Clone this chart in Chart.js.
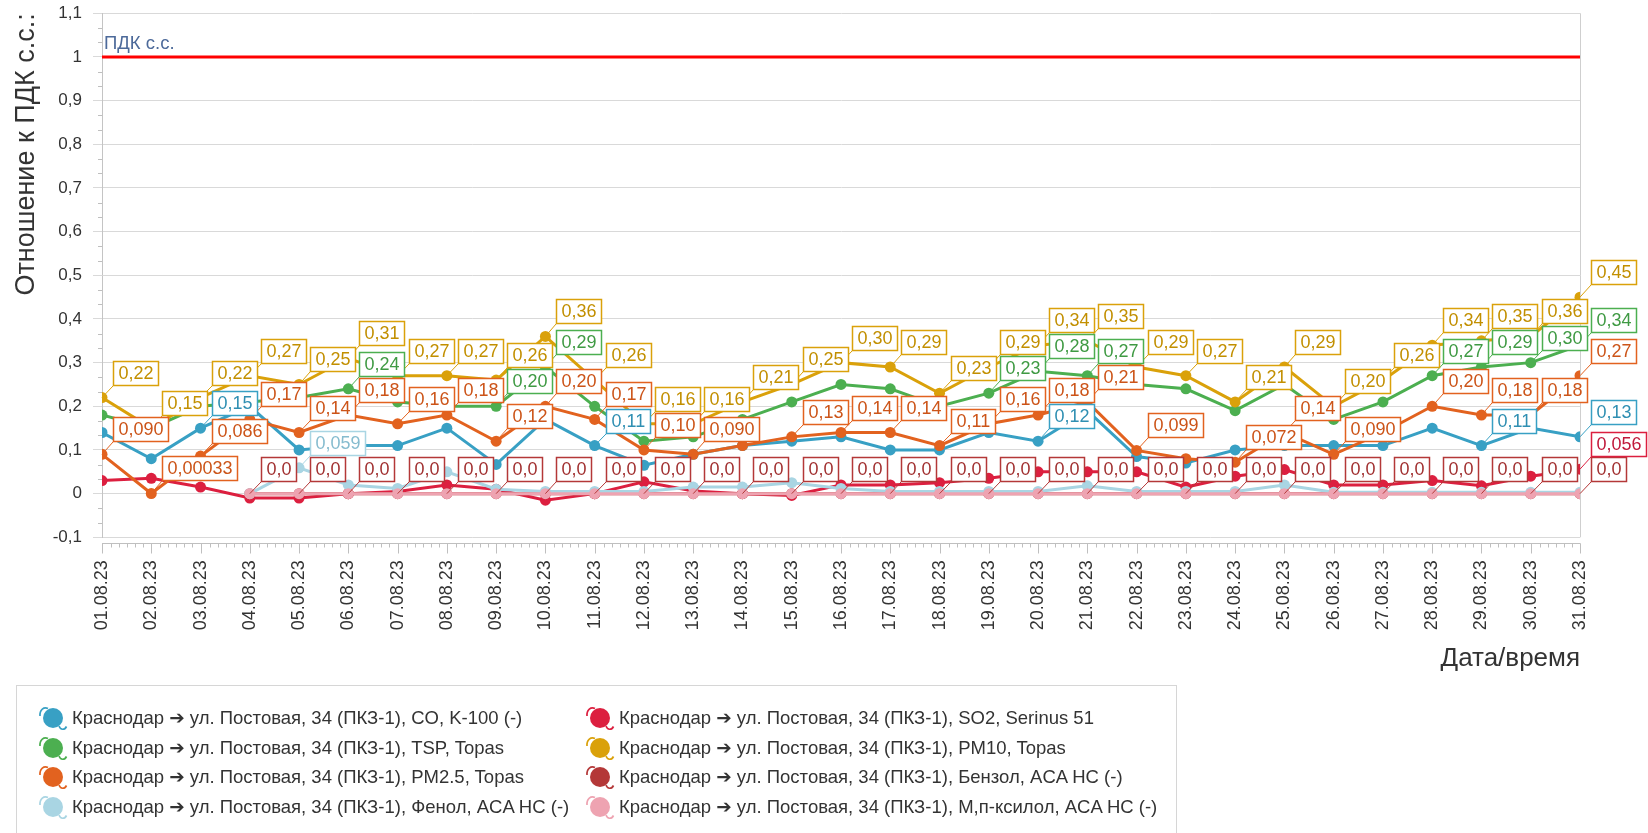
<!DOCTYPE html>
<html lang="ru">
<head>
<meta charset="utf-8">
<title>Отношение к ПДК с.с.</title>
<script src="https://cdn.jsdelivr.net/npm/chart.js@4.4.1/dist/chart.umd.min.js"></script>
<style>
  html, body { margin: 0; padding: 0; background: #fff; }
  #wrap { position: relative; width: 1648px; height: 833px; overflow: hidden; }
  #chart { position: absolute; left: 0; top: 0; }
  #legend { position: absolute; left: 16px; top: 685px; width: 1161px; height: 170px;
            border: 1px solid #d6d6d6; box-sizing: border-box; }
  .item { position: absolute; height: 28px; display: flex; align-items: center; white-space: nowrap;
          font: 18.5px "Liberation Sans", "DejaVu Sans", sans-serif; color: #333; }
  .item svg { margin-right: 3px; flex: none; }
</style>
</head>
<body>
<div id="wrap">
  <canvas id="chart" width="1648" height="833"></canvas>
  <div id="legend"></div>
</div>
<script>
/* ---------- DATA ---------- */
const dates = ["01.08.23","02.08.23","03.08.23","04.08.23","05.08.23","06.08.23","07.08.23","08.08.23",
  "09.08.23","10.08.23","11.08.23","12.08.23","13.08.23","14.08.23","15.08.23","16.08.23","17.08.23",
  "18.08.23","19.08.23","20.08.23","21.08.23","22.08.23","23.08.23","24.08.23","25.08.23","26.08.23",
  "27.08.23","28.08.23","29.08.23","30.08.23","31.08.23"];

const coValues = [0.14,0.08,0.15,0.20,0.10,0.11,0.11,0.15,0.067,0.17,0.11,0.065,0.09,0.11,0.12,0.13,
  0.10,0.10,0.14,0.12,0.19,0.085,0.07,0.10,0.11,0.11,0.11,0.15,0.11,0.15,0.13];
const so2Values = [0.03,0.035,0.015,-0.01,-0.01,0.0,0.005,0.02,0.01,-0.015,0.0,0.027,0.006,0.0,-0.004,
  0.02,0.02,0.025,0.035,0.05,0.05,0.05,0.015,0.04,0.055,0.02,0.02,0.03,0.018,0.04,0.056];
const tspValues = [0.18,0.15,0.20,0.21,0.22,0.24,0.21,0.20,0.20,0.29,0.20,0.12,0.13,0.17,0.21,0.25,
  0.24,0.20,0.23,0.28,0.27,0.25,0.24,0.19,0.25,0.17,0.21,0.27,0.29,0.30,0.34];
const pm10Values = [0.22,0.15,0.22,0.27,0.25,0.31,0.27,0.27,0.26,0.36,0.26,0.16,0.16,0.21,0.25,0.30,
  0.29,0.23,0.29,0.34,0.35,0.29,0.27,0.21,0.29,0.20,0.26,0.34,0.35,0.36,0.45];
const pm25Values = [0.090,0.00033,0.086,0.17,0.14,0.18,0.16,0.18,0.12,0.20,0.17,0.10,0.090,0.11,0.13,
  0.14,0.14,0.11,0.16,0.18,0.21,0.099,0.08,0.072,0.14,0.09,0.14,0.20,0.18,0.18,0.27];
const benzeneValues = [null,null,null,0,0,0,0,0,0,0,0,0,0,0,0,0,0,0,0,0,0,0,0,0,0,0,0,0,0,0,0];
const phenolValues = [null,null,null,0.0,0.059,0.02,0.012,0.05,0.01,0.005,0.005,0.005,0.015,0.015,0.025,
  0.012,0.005,0.005,0.005,0.005,0.018,0.005,0.005,0.005,0.02,0.003,0.003,0.003,0.003,0.003,0.003];
const xyleneValues = [null,null,null,0,0,0,0,0,0,0,0,0,0,0,0,0,0,0,0,0,0,0,0,0,0,0,0,0,0,0,0];

const seriesNames = [
  "Краснодар ➔ ул. Постовая, 34 (ПКЗ-1), CO, K-100 (-)",
  "Краснодар ➔ ул. Постовая, 34 (ПКЗ-1), SO2, Serinus 51",
  "Краснодар ➔ ул. Постовая, 34 (ПКЗ-1), TSP, Topas",
  "Краснодар ➔ ул. Постовая, 34 (ПКЗ-1), PM10, Topas",
  "Краснодар ➔ ул. Постовая, 34 (ПКЗ-1), PM2.5, Topas",
  "Краснодар ➔ ул. Постовая, 34 (ПКЗ-1), Бензол, ACA HC (-)",
  "Краснодар ➔ ул. Постовая, 34 (ПКЗ-1), Фенол, ACA HC (-)",
  "Краснодар ➔ ул. Постовая, 34 (ПКЗ-1), М,п-ксилол, ACA HC (-)"
];
const seriesValues = [coValues, so2Values, tspValues, pm10Values, pm25Values,
  benzeneValues, phenolValues, xyleneValues];
const seriesColors = ["#38a0c4","#dc1f3f","#4caf50","#daa10a","#e2621f","#b43838","#a9d5e3","#eea3b1"];
const labelColors  = ["#2f8fb2","#c0183a","#3f9a43","#c28f00","#cc5418","#a23232","#86bccf","#d88a98"];

// which series wins when point labels collide
const labelPriority = [3, 4, 5, 6, 0, 2, 1, 7];

const yMin = -0.1, yMax = 1.1, yStep = 0.1;
const pdkLevel = 1;
const pdkText = "ПДК с.с.";
const yTitle = "Отношение к ПДК с.с.:";
const xTitle = "Дата/время";

const FONT = '"Liberation Sans", "DejaVu Sans", sans-serif';
Chart.defaults.font.family = FONT;

const fmt = v => v.toPrecision(2).replace(".", ",");

/* ---------- PLUGINS ---------- */
const decor = {
    id: "decor",
    beforeDatasetsDraw(chart) {
        const {ctx, chartArea: a, scales: {y}} = chart;
        ctx.save();
        // right frame
        ctx.strokeStyle = "#cfcfcf";
        ctx.lineWidth = 1;
        ctx.beginPath();
        ctx.moveTo(Math.round(a.right) + 0.5, a.top);
        ctx.lineTo(Math.round(a.right) + 0.5, a.bottom);
        ctx.stroke();
        // ПДК line
        const py = y.getPixelForValue(pdkLevel);
        ctx.strokeStyle = "#ff0000";
        ctx.lineWidth = 3;
        ctx.beginPath();
        ctx.moveTo(a.left, py);
        ctx.lineTo(a.right, py);
        ctx.stroke();
        ctx.fillStyle = "#4d6a9a";
        ctx.font = "18.5px " + FONT;
        ctx.textBaseline = "alphabetic";
        ctx.fillText(pdkText, a.left + 2, py - 8);
        ctx.restore();
    },
    afterDraw(chart) {
        const {ctx, chartArea: a, scales: {x, y}} = chart;
        ctx.save();
        ctx.strokeStyle = "#bfbfbf";
        ctx.lineWidth = 1;
        const ay = Math.round(a.bottom + 6) + 0.5;
        ctx.beginPath();
        ctx.moveTo(a.left, ay);
        ctx.lineTo(a.right + 0.5, ay);
        // x ticks, major + 5 minor between dates
        const n = dates.length;
        for (let i = 0; i < n; i++) {
            const px = Math.round(x.getPixelForValue(i)) + 0.5;
            ctx.moveTo(px, ay);
            ctx.lineTo(px, ay + 10);
            if (i < n - 1) {
                const nx = x.getPixelForValue(i + 1);
                for (let k = 1; k < 6; k++) {
                    const mx = Math.round(px + (nx - px) * k / 6) + 0.5;
                    ctx.moveTo(mx, ay);
                    ctx.lineTo(mx, ay + 4);
                }
            }
        }
        // y minor ticks
        for (let v = yMin; v < yMax - 1e-9; v += yStep) {
            for (let k = 1; k < 3; k++) {
                const py = Math.round(y.getPixelForValue(v + yStep * k / 3)) + 0.5;
                ctx.moveTo(a.left - 4, py);
                ctx.lineTo(a.left, py);
            }
        }
        ctx.stroke();
        ctx.restore();
    }
};

const pointLabels = {
    id: "pointLabels",
    afterDatasetsDraw(chart) {
        const ctx = chart.ctx;
        ctx.save();
        ctx.font = "18px " + FONT;
        const placed = [];
        labelPriority.forEach(di => {
            const meta = chart.getDatasetMeta(di);
            const vals = chart.data.datasets[di].data;
            meta.data.forEach((pt, i) => {
                const v = vals[i];
                if (v === null || v === undefined) return;
                const text = fmt(v);
                const w = Math.round(ctx.measureText(text).width) + 11;
                const h = 25;
                const bx = Math.round(pt.x + 11), by = Math.round(pt.y - 12 - h);
                const box = {x1: bx, y1: by, x2: bx + w, y2: by + h};
                const hit = placed.some(b => box.x1 < b.x2 && box.x2 > b.x1 && box.y1 < b.y2 && box.y2 > b.y1);
                if (hit) return;
                placed.push(Object.assign(box, {di, px: pt.x, py: pt.y, text}));
            });
        });
        placed.forEach(b => {
            ctx.strokeStyle = seriesColors[b.di];
            ctx.lineWidth = 1;
            ctx.beginPath();
            ctx.moveTo(b.px, b.py);
            ctx.lineTo(b.x1, b.y2);
            ctx.stroke();
        });
        placed.forEach(b => {
            ctx.fillStyle = "#fff";
            ctx.fillRect(b.x1, b.y1, b.x2 - b.x1, b.y2 - b.y1);
            ctx.strokeStyle = seriesColors[b.di];
            ctx.lineWidth = 1.5;
            ctx.strokeRect(b.x1 + 0.5, b.y1 + 0.5, b.x2 - b.x1 - 1, b.y2 - b.y1 - 1);
            ctx.fillStyle = labelColors[b.di];
            ctx.textBaseline = "middle";
            ctx.textAlign = "left";
            ctx.fillText(b.text, b.x1 + 5.5, (b.y1 + b.y2) / 2 + 1);
        });
        ctx.restore();
    }
};

/* ---------- CHART ---------- */
const datasets = seriesValues.map((vals, i) => ({
    label: seriesNames[i],
    data: vals,
    borderColor: seriesColors[i],
    backgroundColor: seriesColors[i],
    borderWidth: 3,
    pointRadius: 5.5,
    pointBorderWidth: 0,
    pointHoverRadius: 5.5,
    tension: 0,
    clip: 0,
    order: -i
}));

new Chart(document.getElementById("chart"), {
    type: "line",
    data: { labels: dates, datasets },
    options: {
        responsive: false,
        animation: false,
        devicePixelRatio: 1,
        events: [],
        layout: { padding: { left: 0, top: 13.3, right: 68, bottom: 158.7 } },
        plugins: { legend: { display: false }, tooltip: { enabled: false } },
        scales: {
            x: {
                offset: false,
                grid: { display: false, drawTicks: false },
                border: { display: false },
                ticks: { autoSkip: false, minRotation: 90, maxRotation: 90, padding: 23,
                         color: "#333", font: { size: 18 } },
                title: { display: true, text: xTitle, align: "end", color: "#333",
                         font: { size: 26 }, padding: 0 },
                afterFit(s) { s.height = 137; }
            },
            y: {
                min: yMin, max: yMax,
                ticks: { stepSize: yStep, padding: 11, color: "#333", font: { size: 17 },
                         callback: v => String(Math.round(v * 10) / 10).replace(".", ",") },
                grid: { color: "#d9d9d9", tickLength: 9, tickColor: "#d9d9d9" },
                border: { display: true, color: "#c4c4c4" },
                title: { display: true, text: yTitle, align: "end", color: "#333",
                         font: { size: 27 }, padding: { top: 10, bottom: 0 } },
                afterFit(s) { s.width = 102; s.paddingTop = 0; s.paddingBottom = 0; }
            }
        }
    },
    plugins: [decor, pointLabels]
});

/* ---------- LEGEND ---------- */
function icon(color) {
    return `<svg width="33" height="28" viewBox="0 0 33 28">
      <path d="M4,12 C3.5,5.5 8,2.5 12,4.5" stroke="${color}" stroke-width="1.7" fill="none"/>
      <path d="M23,22 C24.5,26 28.5,26.5 30.5,22.5" stroke="${color}" stroke-width="1.7" fill="none"/>
      <circle cx="17" cy="14" r="10" fill="${color}"/></svg>`;
}
const legendEl = document.getElementById("legend");
seriesNames.forEach((name, i) => {
    const row = Math.floor(i / 2), col = i % 2;
    const item = document.createElement("div");
    item.className = "item";
    item.style.left = (col ? 566 : 19) + "px";
    item.style.top = (18 + row * 29.6) + "px";
    item.innerHTML = icon(seriesColors[i]) + "<span>" + name + "</span>";
    legendEl.appendChild(item);
});
</script>
</body>
</html>
